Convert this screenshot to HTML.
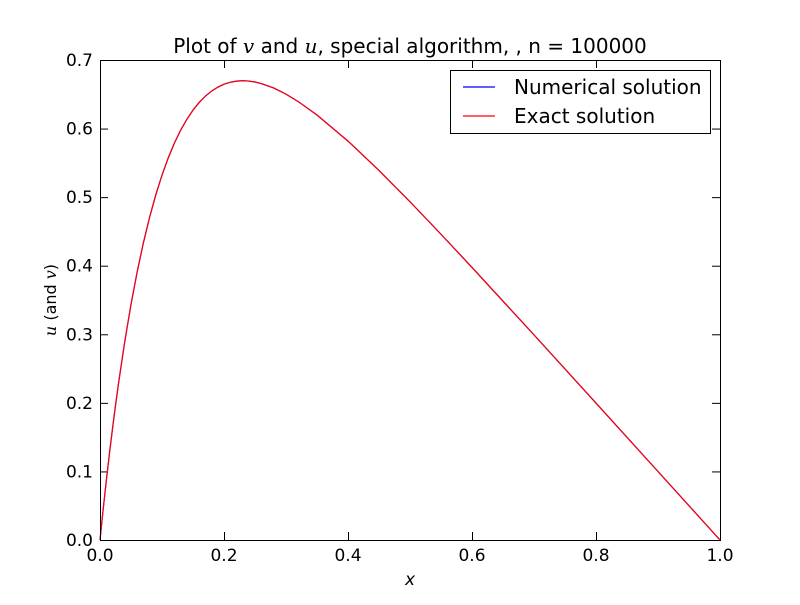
<!DOCTYPE html>
<html><head><meta charset="utf-8"><style>
body{margin:0;background:#fff}
svg text{font-family:"DejaVu Sans","Liberation Sans",sans-serif;fill:#000}
</style></head><body>
<svg id="chart" width="800" height="600" xmlns="http://www.w3.org/2000/svg">
<rect width="800" height="600" fill="#fff"/>
<text x="410" y="53" font-size="20" text-anchor="middle">Plot of <tspan font-style="italic" font-family="DejaVu Serif">v</tspan> and <tspan font-style="italic" font-family="DejaVu Serif">u</tspan>, special algorithm, , n = 100000</text>
<g id="axes"></g>
<g id="series"></g>
<rect x="100.5" y="60.5" width="620" height="480" fill="none" stroke="#000" stroke-width="1"/>
<text x="410" y="585" font-size="17" text-anchor="middle" font-style="italic" font-family="DejaVu Serif">x</text>
<text transform="translate(56,300) rotate(-90)" font-size="16" text-anchor="middle"><tspan font-style="italic" font-family="DejaVu Serif">u</tspan> (and <tspan font-style="italic" font-family="DejaVu Serif">v</tspan>)</text>
<g>
<rect x="450.5" y="70.5" width="260" height="63" fill="#fff" stroke="#000"/>
<line x1="463" y1="87" x2="495" y2="87" stroke="#0000ff" stroke-width="1.2"/>
<text x="514" y="94" font-size="20">Numerical solution</text>
<line x1="463" y1="116" x2="495" y2="116" stroke="#ff0000" stroke-width="1.2"/>
<text x="514" y="123" font-size="20">Exact solution</text>
</g>
</svg>
<script>
const xs=[0,0.005,0.01,0.015,0.02,0.025,0.03,0.04,0.05,0.06,0.07,0.08,0.09,0.10,0.11,0.12,0.13,0.14,0.15,0.16,0.17,0.18,0.19,0.20,0.21,0.22,0.23,0.24,0.25,0.26,0.28,0.30,0.32,0.35,0.40,0.45,0.50,0.55,0.60,0.70,0.80,0.90,1.0];
const numerical=[0,0.0438,0.0852,0.1243,0.1613,0.1962,0.2292,0.2897,0.3435,0.3912,0.4334,0.4707,0.5034,0.5321,0.5571,0.5788,0.5975,0.6134,0.6269,0.6381,0.6473,0.6547,0.6604,0.6647,0.6675,0.6692,0.6697,0.6693,0.6679,0.6657,0.6592,0.6502,0.6392,0.6198,0.5817,0.5389,0.4933,0.4459,0.3975,0.2991,0.1997,0.0999,0];
const exact=[0,0.0438,0.0852,0.1243,0.1613,0.1962,0.2292,0.2897,0.3435,0.3912,0.4334,0.4707,0.5034,0.5321,0.5571,0.5788,0.5975,0.6134,0.6269,0.6381,0.6473,0.6547,0.6604,0.6647,0.6675,0.6692,0.6697,0.6693,0.6679,0.6657,0.6592,0.6502,0.6392,0.6198,0.5817,0.5389,0.4933,0.4459,0.3975,0.2991,0.1997,0.0999,0];
const xTicks=[0,0.2,0.4,0.6,0.8,1.0];
const xTickLabels=["0.0","0.2","0.4","0.6","0.8","1.0"];
const yTicks=[0,0.1,0.2,0.3,0.4,0.5,0.6,0.7];
const yTickLabels=["0.0","0.1","0.2","0.3","0.4","0.5","0.6","0.7"];
const NS="http://www.w3.org/2000/svg";
const X=v=>100+v*620, Y=v=>540-v/0.7*480;
const axes=document.getElementById('axes'), series=document.getElementById('series');
function mk(t,a,p){const e=document.createElementNS(NS,t);for(const k in a)e.setAttribute(k,a[k]);p.appendChild(e);return e;}
xTicks.forEach((v,i)=>{const x=X(v)+0.5;
 const t1=mk('line',{x1:x,x2:x,y1:540,y2:532,stroke:'#000'},axes);
 
 
 const t2=mk('line',{x1:x,x2:x,y1:60,y2:68,stroke:'#000'},axes);
 
 
 const l=mk('text',{x:X(v),y:561,'font-size':17,'text-anchor':'middle'},axes);l.textContent=xTickLabels[i];
 
 
});
yTicks.forEach((v,i)=>{const y=Y(v)+0.5;
 const t1=mk('line',{x1:100,x2:108,y1:y,y2:y,stroke:'#000'},axes);
 
 
 const t2=mk('line',{x1:712,x2:720,y1:y,y2:y,stroke:'#000'},axes);
 
 
 const l=mk('text',{x:93,y:Y(v)+6,'font-size':17,'text-anchor':'end'},axes);l.textContent=yTickLabels[i];
 
 
});
function pts(arr){return xs.map((x,i)=>X(x)+','+Y(arr[i])).join(' ');}
const p1=mk('polyline',{points:pts(numerical),fill:'none',stroke:'#0000ff','stroke-width':1.2},series);


const p2=mk('polyline',{points:pts(exact),fill:'none',stroke:'#ff0000','stroke-width':1.2},series);


</script>
</body></html>
